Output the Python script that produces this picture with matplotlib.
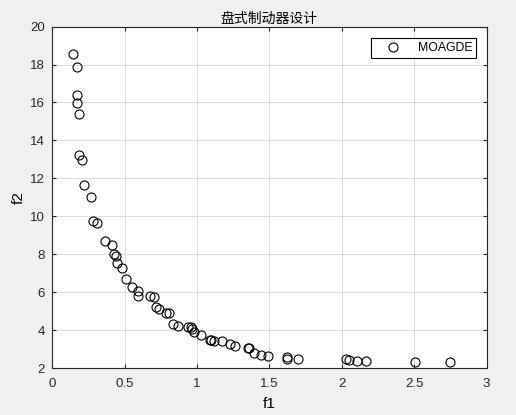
import matplotlib
matplotlib.use('Agg')
import matplotlib.pyplot as plt

plt.rcParams['font.family'] = ['Liberation Sans', 'Noto Sans CJK SC']

f1 = [0.141, 0.169, 0.169, 0.169, 0.183, 0.188, 0.208, 0.220, 0.266,
      0.280, 0.308, 0.368, 0.414, 0.426, 0.440, 0.447, 0.484, 0.509, 0.551,
      0.593, 0.595, 0.676, 0.704, 0.718, 0.738, 0.787, 0.810, 0.833, 0.870,
      0.935, 0.958, 0.968, 0.979, 1.028, 1.088, 1.097, 1.118, 1.174, 1.231,
      1.262, 1.352, 1.359, 1.391, 1.444, 1.488, 1.624, 1.624, 1.700,
      2.028, 2.050, 2.107, 2.167, 2.505, 2.745]
f2 = [18.53, 17.86, 16.38, 15.96, 15.37, 13.21, 12.96, 11.63, 11.04,
      9.77, 9.65, 8.72, 8.51, 8.00, 7.93, 7.56, 7.26, 6.70, 6.30,
      6.05, 5.79, 5.79, 5.74, 5.21, 5.09, 4.88, 4.88, 4.32, 4.23,
      4.14, 4.16, 4.04, 3.89, 3.75, 3.49, 3.47, 3.42, 3.42, 3.26,
      3.19, 3.07, 3.04, 2.81, 2.68, 2.66, 2.56, 2.48, 2.46,
      2.47, 2.42, 2.40, 2.37, 2.33, 2.32]

fig = plt.figure(figsize=(5.16, 4.15), dpi=100, facecolor='#f0f0f0')
ax = fig.add_axes([0.101, 0.113, 0.842, 0.823])
ax.plot(f1, f2, 'o', mfc='none', mec='black', ms=6.5, mew=0.8, label='MOAGDE')

ax.set_xlim(0, 3)
ax.set_ylim(2, 20)
ax.set_xticks([0, 0.5, 1, 1.5, 2, 2.5, 3])
ax.set_xticklabels(['0', '0.5', '1', '1.5', '2', '2.5', '3'])
ax.set_yticks(range(2, 21, 2))
ax.grid(True, color='#dcdcdc', linewidth=0.8)
ax.set_axisbelow(True)
ax.tick_params(direction='in', length=3, top=True, right=True, labelsize=9.5,
               colors='#262626')
ax.tick_params(axis='x', pad=7)
ax.tick_params(axis='y', pad=5)
for s in ax.spines.values():
    s.set_color('#262626')
    s.set_linewidth(0.8)

ax.set_title('盘式制动器设计', fontsize=10, family=['Noto Sans CJK SC'], pad=3)
ax.set_xlabel('f1', fontsize=11, labelpad=5)
ax.set_ylabel('f2', fontsize=11, labelpad=3)

leg = ax.legend(loc='upper right', fancybox=False, edgecolor='black',
                framealpha=1, fontsize=8.8, borderpad=0.3, handlelength=3.0,
                handletextpad=0.5, bbox_to_anchor=(0.975, 0.966),
                borderaxespad=0)
leg.get_frame().set_linewidth(0.8)

fig.savefig('out.png', dpi=100, facecolor=fig.get_facecolor())
